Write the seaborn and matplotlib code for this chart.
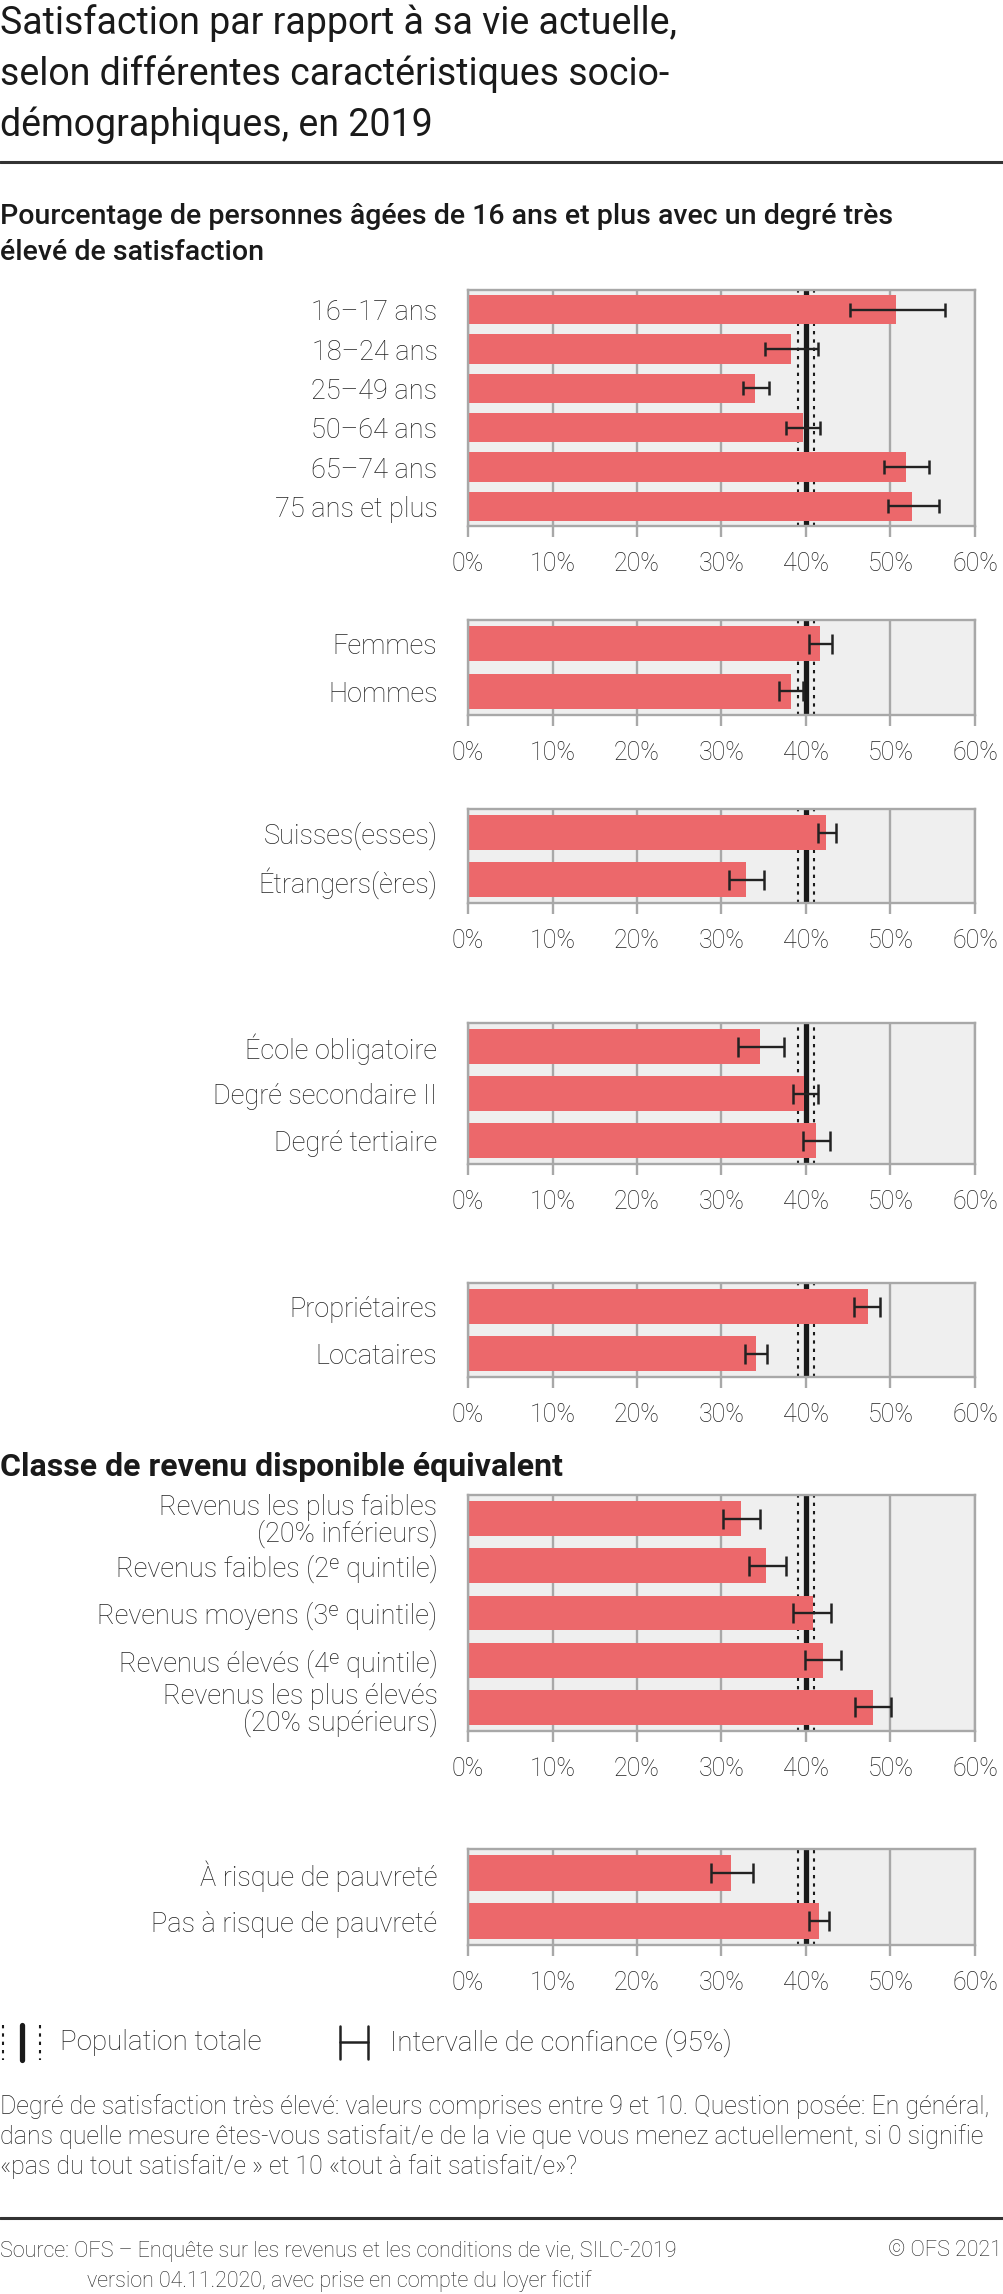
import matplotlib
matplotlib.use('Agg')
import matplotlib.pyplot as plt
from matplotlib.lines import Line2D
import seaborn as sns

# ---- data ----
age_labels = ['16–17 ans', '18–24 ans', '25–49 ans', '50–64 ans', '65–74 ans', '75 ans et plus']
age_vals = [50.7, 38.2, 34.0, 39.6, 51.8, 52.5]
age_lo = [45.2, 35.1, 32.5, 37.6, 49.2, 49.7]
age_hi = [56.4, 41.4, 35.6, 41.6, 54.5, 55.7]

sex_labels = ['Femmes', 'Hommes']
sex_vals = [41.6, 38.2]
sex_lo = [40.3, 36.8]
sex_hi = [43.1, 39.6]

nat_labels = ['Suisses(esses)', 'Étrangers(ères)']
nat_vals = [42.4, 32.9]
nat_lo = [41.4, 30.9]
nat_hi = [43.6, 35.0]

edu_labels = ['École obligatoire', 'Degré secondaire II', 'Degré tertiaire']
edu_vals = [34.6, 39.8, 41.2]
edu_lo = [31.9, 38.5, 39.6]
edu_hi = [37.4, 41.4, 42.8]

log_labels = ['Propriétaires', 'Locataires']
log_vals = [47.3, 34.1]
log_lo = [45.7, 32.8]
log_hi = [48.8, 35.4]

rev_labels = ['Revenus les plus faibles\n(20% inférieurs)', 'Revenus faibles (2ᵉ quintile)',
              'Revenus moyens (3ᵉ quintile)', 'Revenus élevés (4ᵉ quintile)',
              'Revenus les plus élevés\n(20% supérieurs)']
rev_vals = [32.3, 35.3, 40.8, 42.0, 47.9]
rev_lo = [30.2, 33.2, 38.5, 39.9, 45.8]
rev_hi = [34.6, 37.6, 42.9, 44.2, 50.1]

pov_labels = ['À risque de pauvreté', 'Pas à risque de pauvreté']
pov_vals = [31.1, 41.5]
pov_lo = [28.8, 40.4]
pov_hi = [33.7, 42.7]

pop_total = 40.0
pop_lo = 39.1
pop_hi = 41.0

x_ticks = [0, 10, 20, 30, 40, 50, 60]

# ---- style ----
sns.set_theme(style='white')
plt.rcParams['font.family'] = ['Roboto', 'DejaVu Sans']
plt.rcParams['font.weight'] = 'light'

BAR = '#ec686b'
GRID = '#a8a8a8'
TXT = '#222222'

W, H = 1004, 2294
fig = plt.figure(figsize=(W / 100, H / 100), dpi=100)
fig.patch.set_facecolor('white')


def fx(px):
    return px / W


def fy(py):
    return 1 - py / H


def hline(y):
    fig.add_artist(Line2D([0, 1], [fy(y), fy(y)], transform=fig.transFigure, color='#333333', lw=2.2))


def panel(top, bottom, labels, vals, lo, hi, cap):
    left, right = 468, 975
    ax = fig.add_axes([fx(left), fy(bottom), fx(right - left), (bottom - top) / H])
    n = len(labels)
    ax.axvline(pop_total, color='#1a1a1a', lw=3.8, zorder=1)
    for v in (pop_lo, pop_hi):
        ax.axvline(v, color='#1a1a1a', lw=1.5, ls=(0, (1.6, 2.4)), zorder=1)
    sns.barplot(x=vals, y=labels, orient='h', color=BAR, saturation=1, width=0.74,
                linewidth=0, ax=ax, zorder=2)
    xerr = [[v - l for v, l in zip(vals, lo)], [h - v for v, h in zip(vals, hi)]]
    ax.errorbar(vals, list(range(n)), xerr=xerr, fmt='none', ecolor='#222222',
                elinewidth=1.7, capsize=cap, capthick=1.8, zorder=3)
    ax.set_facecolor('#efefef')
    ax.set_xlim(0, 60)
    ax.set_ylim(n - 0.5, -0.5)
    ax.set_xticks(x_ticks)
    ax.set_xticklabels([f'{t}%' for t in x_ticks])
    ax.grid(axis='x', color=GRID, lw=1.7, zorder=0)
    ax.grid(axis='y', visible=False)
    ax.set_axisbelow(True)
    for s in ax.spines.values():
        s.set_visible(True)
        s.set_color(GRID)
        s.set_linewidth(1.7)
    ax.tick_params(axis='x', direction='out', length=8, width=1.7, color=GRID,
                   labelsize=18, labelcolor=TXT, pad=11, bottom=True)
    ax.tick_params(axis='y', length=0, labelsize=19.5, labelcolor=TXT, pad=22)
    for t in ax.get_yticklabels():
        t.set_linespacing(0.95)
        t.set_fontweight('light')
    for t in ax.get_xticklabels():
        t.set_fontweight('light')
    ax.set_xlabel('')
    ax.set_ylabel('')
    return ax


# ---- title ----
title_lines = ['Satisfaction par rapport à sa vie actuelle,',
               'selon différentes caractéristiques socio-',
               'démographiques, en 2019']
for i, line in enumerate(title_lines):
    fig.text(fx(0), fy(23 + i * 51), line, fontsize=27, fontweight='normal',
             color='#1a1a1a', va='center', ha='left')
hline(162)

fig.text(fx(0), fy(217), 'Pourcentage de personnes âgées de 16 ans et plus avec un degré très',
         fontsize=20.5, fontweight='medium', color='#1a1a1a', va='center')
fig.text(fx(0), fy(253), 'élevé de satisfaction',
         fontsize=20.5, fontweight='medium', color='#1a1a1a', va='center')

# ---- panels ----
panel(290, 526, age_labels, age_vals, age_lo, age_hi, 5)
panel(620, 715, sex_labels, sex_vals, sex_lo, sex_hi, 7.5)
panel(809, 903, nat_labels, nat_vals, nat_lo, nat_hi, 7.5)
panel(1023, 1164, edu_labels, edu_vals, edu_lo, edu_hi, 7.5)
panel(1283, 1377, log_labels, log_vals, log_lo, log_hi, 7.5)

fig.text(fx(0), fy(1467), 'Classe de revenu disponible équivalent',
         fontsize=23, fontweight='bold', color='#1a1a1a', va='center')
panel(1495, 1731, rev_labels, rev_vals, rev_lo, rev_hi, 7.5)
panel(1849, 1945, pov_labels, pov_vals, pov_lo, pov_hi, 7.5)

# ---- legend ----
ly0, ly1 = 2025, 2060
for x, lw, ls in [(3, 1.5, (0, (1.6, 2.4))), (22, 3.8, '-'), (40, 1.5, (0, (1.6, 2.4)))]:
    fig.add_artist(Line2D([fx(x), fx(x)], [fy(ly0), fy(ly1)], transform=fig.transFigure,
                          color='#1a1a1a', lw=lw, ls=ls))
fig.text(fx(60), fy(2043), 'Population totale', fontsize=20, color=TXT, va='center')
for x in (340, 368):
    fig.add_artist(Line2D([fx(x), fx(x)], [fy(2026), fy(2059)], transform=fig.transFigure,
                          color='#222222', lw=1.8))
fig.add_artist(Line2D([fx(340), fx(368)], [fy(2042), fy(2042)], transform=fig.transFigure,
                      color='#222222', lw=1.8))
fig.text(fx(390), fy(2043), 'Intervalle de confiance (95%)', fontsize=20, color=TXT, va='center')

# ---- notes ----
note_lines = ['Degré de satisfaction très élevé: valeurs comprises entre 9 et 10. Question posée: En général,',
              'dans quelle mesure êtes-vous satisfait/e de la vie que vous menez actuellement, si 0 signifie',
              '«pas du tout satisfait/e » et 10 «tout à fait satisfait/e»?']
for i, line in enumerate(note_lines):
    fig.text(fx(0), fy(2107 + i * 30), line, fontsize=18, color=TXT, va='center')

hline(2218)
fig.text(fx(0), fy(2251), 'Source: OFS – Enquête sur les revenus et les conditions de vie, SILC-2019',
         fontsize=15.5, color=TXT, va='center')
fig.text(fx(87), fy(2281), 'version 04.11.2020, avec prise en compte du loyer fictif',
         fontsize=15.5, color=TXT, va='center')
fig.text(fx(1002), fy(2251), '© OFS 2021', fontsize=15.5, color=TXT, va='center', ha='right')

fig.savefig('out.png', dpi=100)
